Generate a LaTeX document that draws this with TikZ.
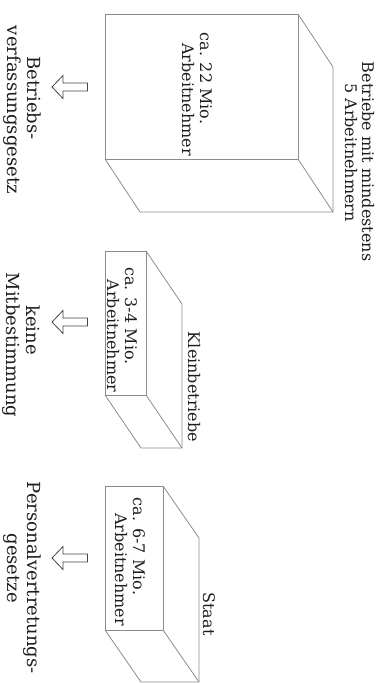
\documentclass[tikz,border=0pt]{standalone}
\usepackage{fontspec}
\setmainfont{DejaVu Serif}
\usetikzlibrary{calc}
\definecolor{boxgray}{RGB}{140,140,140}
\definecolor{arrowgray}{RGB}{70,70,70}
\definecolor{txt}{RGB}{30,30,30}
\newcommand{\myshift}[2]{\hspace*{#1}#2\hspace*{-#1}}
\begin{document}
\begin{tikzpicture}[x=1pt,y=-1pt,
  boxline/.style={draw=boxgray,line width=0.8pt,line join=miter},
  lab/.style={rotate=-90,align=center,inner sep=0pt,text=txt,font=\fontsize{16}{18}\selectfont},
  toplab/.style={rotate=-90,align=center,inner sep=0pt,text=txt,font=\fontsize{16}{17}\selectfont},
  biglab/.style={rotate=-90,align=center,inner sep=0pt,text=txt,font=\fontsize{18}{20}\selectfont},
  hollowarrow/.pic={\draw[draw=arrowgray,line width=0.8pt,fill=white]
     (-17.5,0) -- (-6.5,-11.5) -- (-6.5,-4) -- (18,-4) -- (18,4) -- (-6.5,4) -- (-6.5,11.5) -- cycle;}]
\useasboundingbox (0,0) rectangle (388,683);
% Box A
\coordinate (a1) at (105,14); \coordinate (a2) at (298,14);
\coordinate (a3) at (298,159); \coordinate (a4) at (105,159);
\coordinate (a2b) at (333,67); \coordinate (a3b) at (333,212); \coordinate (a4b) at (140,212);
\draw[boxline] (a1) -- (a2) -- (a3) -- (a4) -- cycle;
\draw[boxline] (a2) -- (a2b) -- (a3b) -- (a4b) -- (a4);
\draw[boxline] (a3) -- (a3b);
% Box B
\coordinate (b1) at (105,251); \coordinate (b2) at (146,251);
\coordinate (b3) at (146,395); \coordinate (b4) at (105,395);
\coordinate (b2b) at (182,304); \coordinate (b3b) at (182,448); \coordinate (b4b) at (141,448);
\draw[boxline] (b1) -- (b2) -- (b3) -- (b4) -- cycle;
\draw[boxline] (b2) -- (b2b) -- (b3b) -- (b4b) -- (b4);
\draw[boxline] (b3) -- (b3b);
% Box C
\coordinate (c1) at (105,486); \coordinate (c2) at (163,486);
\coordinate (c3) at (163,630); \coordinate (c4) at (105,630);
\coordinate (c2b) at (199,538); \coordinate (c3b) at (199,682); \coordinate (c4b) at (141,682);
\draw[boxline] (c1) -- (c2) -- (c3) -- (c4) -- cycle;
\draw[boxline] (c2) -- (c2b) -- (c3b) -- (c4b) -- (c4);
\draw[boxline] (c3) -- (c3b);
% labels
\node[toplab] (ta) at (359.5,157) {\myshift{4.5pt}{Betriebe mit mindestens}\\\myshift{-4.5pt}{5 Arbeitnehmern}};
\node[lab] (tb) at (194,387) {Kleinbetriebe};
\node[lab] (tc) at (209,614) {Staat};
\node[lab] (ia) at (197,89) {\myshift{-10.5pt}{ca. 22 Mio.}\\\myshift{10.5pt}{Arbeitnehmer}};
\node[lab] (ib) at (122,326) {\myshift{-10pt}{ca. 3-4 Mio.}\\\myshift{10pt}{Arbeitnehmer}};
\node[lab] (ic) at (130,558) {\myshift{-11.5pt}{ca. 6-7 Mio.}\\\myshift{11.5pt}{Arbeitnehmer}};
\node[biglab] (la) at (22.5,104) {\myshift{-6pt}{Betriebs-}\\\myshift{6pt}{verfassungsgesetz}};
\node[biglab] (lb) at (21,337.5) {\myshift{-7.5pt}{keine}\\\myshift{7.5pt}{Mitbestimmung}};
\node[biglab] (lc) at (22,573) {\myshift{4.75pt}{Personalvertretungs-}\\\myshift{-4.75pt}{gesetze}};
% arrows
\pic at (69.5,87) {hollowarrow};
\pic at (69.5,322) {hollowarrow};
\pic at (69.5,558) {hollowarrow};
\end{tikzpicture}
\end{document}
